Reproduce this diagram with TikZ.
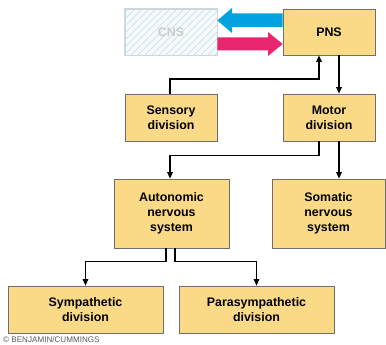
\documentclass[tikz,border=0pt]{standalone}
\usepackage{fontspec}
\setmainfont{Liberation Sans}
\usetikzlibrary{arrows.meta,positioning,calc}
\definecolor{boxfill}{RGB}{251,218,135}
\definecolor{boxdraw}{RGB}{110,110,110}
\definecolor{cnsfill}{RGB}{243,250,252}
\definecolor{cnsline}{RGB}{205,215,220}
\definecolor{cnstext}{RGB}{205,205,205}
\definecolor{bluearr}{RGB}{0,163,224}
\definecolor{pinkarr}{RGB}{232,37,111}
\tikzset{
  box/.style={draw=boxdraw, line width=0.7pt, fill=boxfill, align=center,
    font=\fontsize{12.4}{15}\selectfont\bfseries, inner sep=0pt},
  conn/.style={line width=1.2pt, -{Triangle[length=6.5pt,width=5.5pt]}},
  plain/.style={line width=1.2pt}
}
\begin{document}
\begin{tikzpicture}[x=1pt,y=-1pt]
\useasboundingbox (0,0) rectangle (386,345);
% CNS box (hatched, faded)
\node[draw=cnsline, line width=0.7pt, fill=cnsfill, minimum width=92pt, minimum height=46pt, inner sep=0pt] (cns) at (171,32) {};
\begin{scope}
  \clip (cns.south west) rectangle (cns.north east);
  \foreach \i in {0,7,...,150} {
    \draw[cnsline, line width=0.5pt] (125+\i-50,55) -- (125+\i,5);
  }
\end{scope}
\draw[cnsline, line width=0.7pt] (cns.south west) rectangle (cns.north east);
\node[font=\fontsize{12.4}{15}\selectfont\bfseries, text=cnstext] (cnstxt) at (cns.center) {CNS};
% boxes
\node[box, minimum width=92pt, minimum height=46pt] (pns) at (329,32) {PNS};
\node[box, minimum width=92pt, minimum height=47pt] (sens) at (171,117.5) {Sensory\\division};
\node[box, minimum width=92pt, minimum height=47pt] (motor) at (329,117.5) {Motor\\division};
\node[box, minimum width=115pt, minimum height=69pt] (auto) at (171.5,213.5) {Autonomic\\nervous\\system};
\node[box, minimum width=113pt, minimum height=69pt] (som) at (328.5,213.5) {Somatic\\nervous\\system};
\node[box, minimum width=155pt, minimum height=47pt] (symp) at (85.5,309.5) {Sympathetic\\division};
\node[box, minimum width=155pt, minimum height=47pt] (para) at (256.5,309.5) {Parasympathetic\\division};
% big arrows between CNS and PNS
\fill[bluearr] (pns.west |- 0,13.5) -- (232,13.5) -- (232,8) -- (cns.east |- 0,20.5) -- (232,33) -- (232,27) -- (pns.west |- 0,27) -- cycle;
\fill[pinkarr] (cns.east |- 0,37.5) -- (268,37.5) -- (268,32) -- (pns.west |- 0,44) -- (268,56) -- (268,50.5) -- (cns.east |- 0,50.5) -- cycle;
% connectors
\coordinate (sensup) at ($(pns.south)+(-10,0)$);
\draw[conn] ([xshift=-1pt]sens.north) |- (0,79 -| sensup) -- (sensup);
\draw[conn] ([xshift=10pt]pns.south) -- ([xshift=10pt]pns.south |- motor.north);
\coordinate (mleft) at ($(motor.south)+(-10,0)$);
\draw[conn] (mleft) |- ($(auto.north)+(-1.5,-23)$) -- ([xshift=-1.5pt]auto.north);
\draw[conn] ([xshift=10pt]motor.south) -- ([xshift=10pt]motor.south |- som.north);
\coordinate (aleft) at ($(auto.south)+(-5.5,0)$);
\coordinate (aright) at ($(auto.south)+(3.5,0)$);
\draw[conn] (aleft) |- ($(symp.north)+(0,-24)$) -- (symp.north);
\draw[conn] (aright) |- ($(para.north)+(0,-24)$) -- (para.north);
% copyright
\node[anchor=west, inner sep=0pt, font=\fontsize{8.1}{9}\selectfont, text=black!65] (copy) at (3,340) {\textcopyright\ BENJAMIN/CUMMINGS};
\end{tikzpicture}
\end{document}
